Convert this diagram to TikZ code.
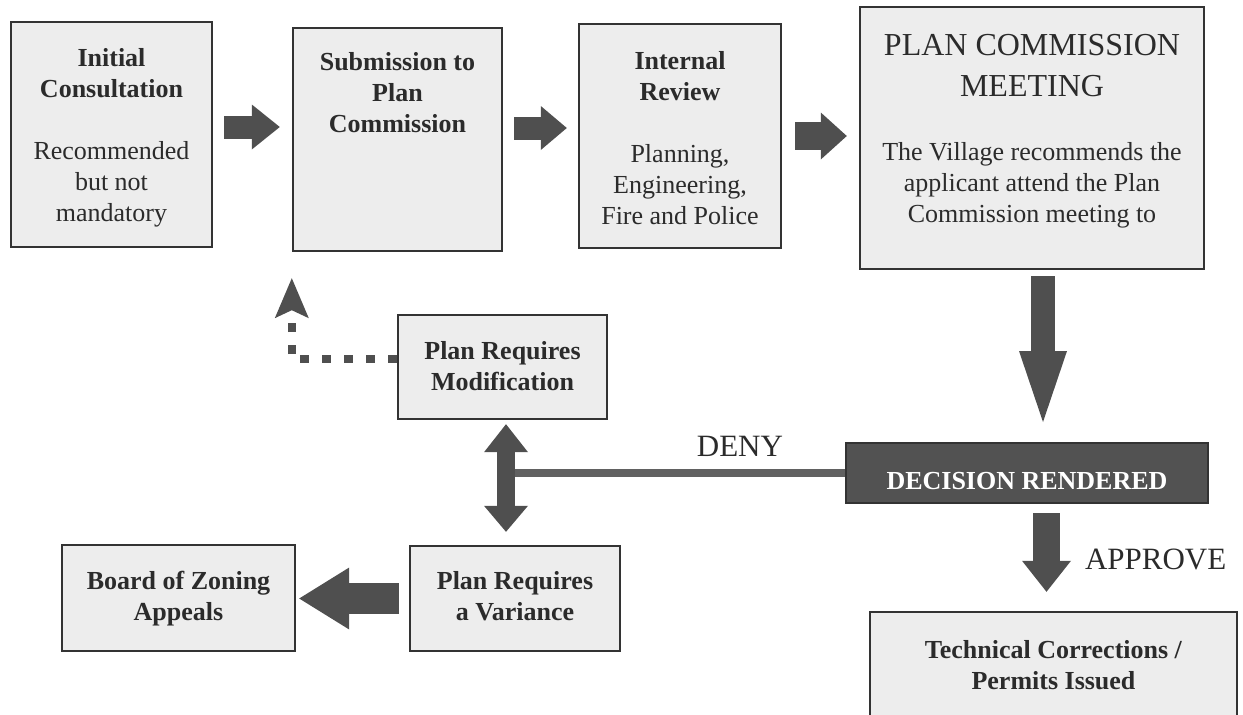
\documentclass[tikz,border=0pt]{standalone}
\usepackage{fontspec}
\setmainfont{Liberation Serif}
\usetikzlibrary{arrows.meta,positioning}
\definecolor{boxfill}{HTML}{EDEDED}
\definecolor{boxline}{HTML}{333333}
\definecolor{arrowgray}{HTML}{4F4F4F}
\definecolor{decfill}{HTML}{525252}
\definecolor{inkgray}{HTML}{2B2B2B}
\tikzset{
  box/.style={draw=boxline, line width=2.4pt, fill=boxfill, inner sep=0pt},
  decbox/.style={draw=boxline, line width=2pt, fill=decfill, inner sep=0pt,
    text=white, font=\bfseries\fontsize{26}{31}\selectfont, text height=33pt},
  boxtext/.style={align=center, inner sep=0pt, text=inkgray, font=\fontsize{26}{31}\selectfont},
  bigtext/.style={align=center, inner sep=0pt, text=inkgray, font=\fontsize{32}{41}\selectfont},
  lbl/.style={inner sep=0pt, text=inkgray, font=\fontsize{31}{37}\selectfont},
  fat/.style n args={3}{draw=arrowgray, line width=#1,
    -{Triangle[length=#2, width=#3, line width=0pt]}},
  dotline/.style={draw=arrowgray, line width=8pt, dash pattern=on 9pt off 13pt,
    -{Stealth[length=40pt, width=34pt, inset=8pt, line width=0pt]}},
  denyline/.style={draw=arrowgray!90, line width=8pt}
}
\begin{document}
\begin{tikzpicture}[x=1pt,y=-1pt]
  \useasboundingbox (0,0) rectangle (1243,715);
  % Top row
  \node[box, minimum width=201pt, minimum height=225pt] (init) at (111.5,134.5) {};
  \node[box, minimum width=209pt, minimum height=223pt] (sub) at (397.5,139.5) {};
  \node[box, minimum width=202pt, minimum height=224pt] (review) at (680,136) {};
  \node[box, minimum width=344pt, minimum height=262pt] (meeting) at (1032,138) {};
  % Lower boxes
  \node[box, minimum width=209pt, minimum height=104pt] (modif) at (502.5,367) {};
  \node[box, minimum width=210pt, minimum height=105pt] (variance) at (515,598.5) {};
  \node[box, minimum width=233pt, minimum height=106pt] (board) at (178.5,598) {};
  \node[box, minimum width=367pt, minimum height=112pt] (tech) at (1053.5,668) {};
  \node[decbox, minimum width=362pt, minimum height=60pt] (decision) at (1027,473) {DECISION RENDERED};
  % Texts
  \node[boxtext, below=27pt of init.north] (initText)
    {\textbf{Initial}\\\textbf{Consultation}\\[31pt]Recommended\\but not\\mandatory};
  \node[boxtext, below=25pt of sub.north] (subText)
    {\textbf{Submission to}\\\textbf{Plan}\\\textbf{Commission}};
  \node[boxtext, below=28pt of review.north] (reviewText)
    {\textbf{Internal}\\\textbf{Review}\\[31pt]Planning,\\Engineering,\\Fire and Police};
  \node[bigtext, below=28pt of meeting.north] (meetingTitle) {PLAN COMMISSION\\MEETING};
  \node[boxtext, below=46pt of meetingTitle] (meetingText)
    {The Village recommends the\\applicant attend the Plan\\Commission meeting to};
  \node[boxtext, below=27pt of modif.north] (modifText) {\textbf{Plan Requires}\\\textbf{Modification}};
  \node[boxtext, below=26pt of variance.north] (varianceText) {\textbf{Plan Requires}\\\textbf{a Variance}};
  \node[boxtext, below=27pt of board.north] (boardText) {\textbf{Board of Zoning}\\\textbf{Appeals}};
  \node[boxtext, below=29pt of tech.north] (techText) {\textbf{Technical Corrections /}\\\textbf{Permits Issued}};
  % Flow arrows
  \draw[fat={23pt}{28pt}{45pt}, shorten <=11pt, shorten >=12pt]
    ([yshift=7.5pt]init.east) -- ([yshift=7.5pt]init.east -| sub.west);
  \draw[fat={23pt}{26pt}{44pt}, shorten <=11pt, shorten >=11pt]
    ([yshift=11.5pt]sub.east) -- ([yshift=11.5pt]sub.east -| review.west);
  \draw[fat={28pt}{26pt}{47pt}, shorten <=13pt, shorten >=12pt]
    (review.east) -- (review.east -| meeting.west);
  \draw[fat={24pt}{71pt}{48pt}, shorten <=6pt, shorten >=20pt]
    ([xshift=11pt]meeting.south) -- ([xshift=11pt]meeting.south |- decision.north);
  \draw[fat={27pt}{31pt}{49pt}, shorten <=9pt, shorten >=19pt]
    ([xshift=19.5pt]decision.south) -- node[lbl, right=25pt, yshift=-2pt] (approve) {APPROVE}
    ([xshift=19.5pt]decision.south |- tech.north);
  \draw[fat={31pt}{50pt}{62pt}, shorten <=10pt, shorten >=3pt]
    (variance.west) -- (variance.west -| board.east);
  % Deny branch
  \draw[denyline] (decision.west) -- node[lbl, pos=0.31, above=12pt] (deny) {DENY}
    ([xshift=3.5pt]modif.south |- decision.west);
  \draw[draw=arrowgray, line width=18pt,
    {Triangle[length=28pt, width=44pt, line width=0pt]}-{Triangle[length=26pt, width=44pt, line width=0pt]},
    shorten <=4pt, shorten >=13pt]
    ([xshift=3.5pt]modif.south) -- ([xshift=3.5pt]modif.south |- variance.north);
  % Back to submission
  \draw[dotline, shorten >=26pt] ([yshift=8pt]modif.west) -| (sub.south west);
\end{tikzpicture}
\end{document}
